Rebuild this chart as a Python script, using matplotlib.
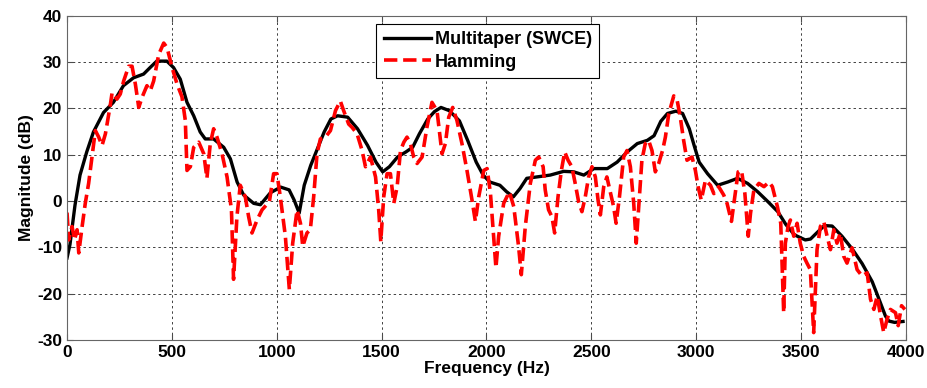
import matplotlib
matplotlib.use('Agg')
import matplotlib.pyplot as plt

# Multitaper (SWCE) spectrum
mt_freq = [0, 14, 38, 62, 94, 126, 174, 221, 269, 317, 365, 396, 428, 476, 508,
           540, 572, 604, 635, 659, 699, 747, 779, 811, 842, 890, 922, 970, 1019,
           1059, 1083, 1107, 1131, 1162, 1194, 1226, 1258, 1290, 1338, 1385, 1433,
           1473, 1505, 1537, 1576, 1616, 1648, 1680, 1720, 1752, 1783, 1823, 1871,
           1911, 1951, 1984, 2016, 2064, 2096, 2128, 2160, 2192, 2240, 2304, 2368,
           2416, 2464, 2512, 2576, 2623, 2671, 2719, 2767, 2799, 2831, 2863, 2903,
           2935, 2967, 2990, 3014, 3054, 3102, 3150, 3197, 3245, 3293, 3341, 3389,
           3428, 3468, 3520, 3545, 3572, 3611, 3648, 3695, 3743, 3791, 3839, 3870,
           3902, 3918, 3946, 3986]
mt_mag = [-12.3, -9.4, -0.9, 5.6, 10.6, 14.9, 19.1, 21.3, 24.9, 26.6, 27.4, 28.8,
          30.2, 30.2, 28.8, 26.3, 21.3, 18.4, 14.9, 13.4, 13.4, 11.6, 9.1, 4.1, 1.3,
          -0.5, -0.8, 1.8, 3.0, 2.4, 0.2, -2.6, 3.4, 7.7, 11.3, 14.9, 17.7, 18.4,
          18.1, 15.6, 12.0, 8.4, 6.3, 7.4, 9.5, 10.6, 11.6, 14.5, 17.7, 19.3, 20.2,
          19.5, 17.3, 13.0, 8.4, 5.6, 4.1, 3.4, 2.0, 0.9, 2.7, 4.9, 5.2, 5.6, 6.4,
          6.3, 5.6, 7.0, 7.0, 8.4, 10.6, 12.4, 13.1, 14.1, 17.2, 18.9, 19.4, 18.9,
          15.6, 12.0, 8.4, 5.9, 3.4, 4.1, 4.9, 3.8, 2.0, -0.1, -2.3, -5.1, -7.3,
          -8.4, -8.2, -7.0, -5.3, -5.4, -7.6, -10.3, -13.5, -17.4, -21.0, -24.8,
          -25.9, -26.2, -26.0]

# Hamming window spectrum
hm_freq = [0, 8, 24, 36, 48, 56, 72, 87, 103, 119, 135, 151, 167, 183, 207, 215,
           238, 254, 270, 294, 310, 326, 342, 358, 381, 397, 413, 437, 461, 477,
           501, 525, 548, 564, 572, 588, 604, 628, 652, 667, 683, 699, 715, 739,
           763, 784, 794, 810, 826, 850, 866, 882, 906, 930, 965, 985, 1001, 1017,
           1041, 1060, 1076, 1097, 1113, 1124, 1144, 1160, 1176, 1192, 1208, 1232,
           1256, 1280, 1303, 1319, 1343, 1359, 1383, 1407, 1423, 1447, 1471, 1486,
           1496, 1510, 1526, 1542, 1558, 1574, 1590, 1606, 1621, 1637, 1653, 1669,
           1693, 1716, 1740, 1764, 1788, 1804, 1820, 1839, 1859, 1883, 1907, 1931,
           1947, 1963, 1987, 2003, 2019, 2034, 2045, 2058, 2082, 2109, 2130, 2153,
           2166, 2185, 2209, 2233, 2249, 2270, 2280, 2296, 2312, 2325, 2341, 2357,
           2373, 2389, 2407, 2423, 2439, 2455, 2471, 2487, 2503, 2519, 2532, 2543,
           2559, 2574, 2590, 2606, 2618, 2634, 2654, 2670, 2686, 2702, 2714, 2729,
           2741, 2757, 2773, 2789, 2805, 2821, 2840, 2853, 2869, 2893, 2908, 2924,
           2940, 2956, 2980, 2996, 3009, 3024, 3044, 3068, 3084, 3107, 3131, 3147,
           3168, 3184, 3200, 3216, 3232, 3248, 3259, 3275, 3299, 3323, 3347, 3363,
           3387, 3403, 3411, 3417, 3425, 3438, 3449, 3465, 3481, 3496, 3512, 3528,
           3544, 3560, 3576, 3592, 3608, 3624, 3640, 3656, 3671, 3687, 3703, 3719,
           3743, 3767, 3791, 3815, 3831, 3847, 3863, 3879, 3894, 3910, 3926, 3950,
           3963, 3979, 3995]
hm_mag = [-2.5, -8.4, -5.5, -8.4, -6.2, -11.2, -5.5, -0.5, 3.8, 9.5, 15.2, 13.8,
          12.0, 14.5, 20.9, 23.4, 22.0, 23.1, 25.9, 29.1, 29.1, 25.2, 20.2, 22.4,
          24.9, 23.8, 25.9, 31.6, 34.1, 33.1, 28.8, 25.2, 22.5, 17.4, 6.6, 7.4,
          11.6, 12.7, 10.2, 4.9, 12.4, 15.6, 13.8, 10.2, 5.2, -1.9, -16.9, -3.4,
          3.4, 0.9, -3.4, -6.9, -4.1, -1.9, -0.1, 5.9, 5.9, 0.9, -7.6, -19.1, -9.1,
          -1.9, -4.8, -9.8, -6.9, -6.2, 0.9, 10.2, 13.4, 13.8, 15.2, 19.5, 21.6,
          19.5, 16.6, 15.9, 14.5, 10.9, 7.4, 9.5, 5.2, -1.9, -8.7, 0.9, 5.9, 5.9,
          -0.5, 3.1, 10.9, 12.7, 13.8, 12.4, 9.5, 8.1, 9.5, 15.9, 21.3, 19.5, 10.2,
          12.4, 18.1, 20.2, 17.4, 12.4, 6.6, 0.2, -4.4, 0.9, 6.6, 7.0, 1.6, -7.6,
          -14.4, -7.6, -0.5, 2.0, -1.2, -9.8, -15.9, -5.5, 3.8, 8.8, 9.5, 7.4, 2.4,
          -1.9, -3.4, -6.9, 0.9, 6.6, 10.6, 8.8, 7.4, 3.8, -0.1, -2.3, 0.9, 5.2,
          7.4, 5.2, 0.2, -3.0, 3.1, 5.2, 2.0, -1.2, -4.8, 0.9, 9.5, 10.9, 7.4, -0.5,
          -9.1, 0.9, 8.8, 12.4, 13.1, 10.9, 6.3, 8.1, 11.0, 13.8, 18.8, 22.7, 22.0,
          18.1, 13.1, 8.8, 9.5, 6.6, 3.1, 0.2, 4.5, 3.4, 1.6, 3.1, 1.3, -0.5, -4.4,
          0.9, 6.3, 6.6, 1.6, -7.6, -2.6, 2.4, 3.8, 3.1, 4.1, 3.1, -1.2, -4.8,
          -16.2, -24.1, -9.1, -5.5, -4.1, -7.6, -4.8, -9.1, -11.9, -13.4, -14.8,
          -28.4, -10.5, -5.5, -4.4, -7.6, -10.5, -6.2, -9.1, -6.9, -11.9, -13.4,
          -10.1, -14.8, -16.2, -15.5, -21.2, -23.4, -20.5, -24.8, -28.4, -25.5,
          -23.4, -24.1, -26.9, -22.6, -23.4]

plt.rcParams['font.family'] = ['Liberation Sans', 'DejaVu Sans']
plt.rcParams['font.weight'] = 'bold'
plt.rcParams['axes.unicode_minus'] = False

fig = plt.figure(figsize=(9.27, 3.88), dpi=100)
ax = fig.add_axes([0.0723, 0.1237, 0.905, 0.8358])

ax.plot(mt_freq, mt_mag, color='black', linewidth=2.4, label='Multitaper (SWCE)')
ax.plot(hm_freq, hm_mag, color='red', linestyle='--', linewidth=2.6,
        label='Hamming')

ax.set_xlim(0, 4000)
ax.set_ylim(-30, 40)
ax.set_xticks(range(0, 4001, 500))
ax.set_yticks(range(-30, 41, 10))
ax.grid(True, color='0.25', linestyle=(0, (2.5, 3)), linewidth=0.7)
ax.tick_params(direction='in', top=True, right=True, labelsize=12.5, length=4,
               color='0.3')
for lbl in ax.get_xticklabels() + ax.get_yticklabels():
    lbl.set_fontweight('bold')
for sp in ax.spines.values():
    sp.set_color('0.4')

ax.set_xlabel('Frequency (Hz)', fontsize=12.5, fontweight='bold', labelpad=1)
ax.set_ylabel('Magnitude (dB)', fontsize=12.5, fontweight='bold', labelpad=2)

leg = ax.legend(loc='upper left', bbox_to_anchor=(0.3687, 0.974),
                borderaxespad=0, prop={'size': 13, 'weight': 'bold'},
                fancybox=False, framealpha=1, edgecolor='black', borderpad=0.4,
                handlelength=2.6, handletextpad=0.25, labelspacing=0.3)
leg.get_frame().set_linewidth(0.8)

fig.savefig('out.png', dpi=100)
